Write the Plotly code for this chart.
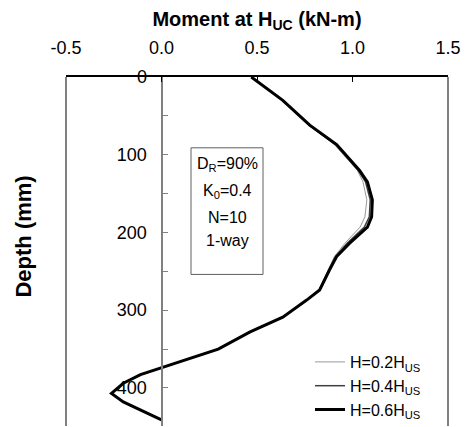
import plotly.graph_objects as go

# Depth below the surface (mm) at which bending moment was recorded
depth_mm = [0, 30, 62, 87, 120, 135, 158, 180, 193, 214, 231, 248, 274, 287,
            309, 328, 350, 374, 383, 394, 407, 418, 428, 441]

# Moment at H_UC (kN-m) for the three loading heights
moment_h02 = [0.47, 0.630, 0.770, 0.905, 1.025, 1.055, 1.075, 1.065, 1.040, 0.960,
              0.905, 0.875, 0.825, 0.760, 0.635, 0.464, 0.297, 0.0, -0.11, -0.20,
              -0.260, -0.20, -0.11, 0.0]
moment_h04 = [0.47, 0.633, 0.773, 0.912, 1.030, 1.068, 1.093, 1.088, 1.062, 0.972,
              0.910, 0.878, 0.826, 0.760, 0.635, 0.464, 0.297, 0.0, -0.11, -0.20,
              -0.262, -0.20, -0.11, 0.0]
moment_h06 = [0.47, 0.635, 0.776, 0.917, 1.036, 1.078, 1.104, 1.100, 1.078, 0.984,
              0.917, 0.880, 0.828, 0.760, 0.635, 0.464, 0.297, 0.0, -0.11, -0.20,
              -0.262, -0.20, -0.11, 0.0]

series_names = ["H=0.2H<sub>US</sub>", "H=0.4H<sub>US</sub>", "H=0.6H<sub>US</sub>"]
x_ticks = [-0.5, 0.0, 0.5, 1.0, 1.5]
box_lines = ["D<sub>R</sub>=90%", "K<sub>0</sub>=0.4", "N=10", "1-way"]

FONT = "Liberation Sans, Arial, sans-serif"

fig = go.Figure()
styles = [dict(color="#9a9a9a", width=1),
          dict(color="#404040", width=1.5),
          dict(color="#000000", width=3)]
for name, vals, st in zip(series_names, [moment_h02, moment_h04, moment_h06], styles):
    fig.add_trace(go.Scatter(x=vals, y=depth_mm, mode="lines", name=name,
                             line=st, showlegend=True))

# Frame lines on the left and right of the plotting area
for xp in (0, 1):
    fig.add_shape(type="line", xref="paper", yref="paper", x0=xp, x1=xp, y0=0, y1=1,
                  line=dict(color="#808080", width=2), layer="above")

# Pixel -> paper helpers for the plotting area (66..448 x 77..427)
def px_to_paper_x(px):
    return (px - 66) / 382

def px_to_paper_y(py):
    return 1 - (py - 77) / 350

# Text box with test conditions
fig.add_shape(type="rect", xref="paper", yref="paper",
              x0=px_to_paper_x(191), x1=px_to_paper_x(263),
              y0=px_to_paper_y(275), y1=px_to_paper_y(148),
              line=dict(color="#606060", width=1), fillcolor="white", layer="below")
for txt, py in zip(box_lines, [165, 192, 218, 241]):
    fig.add_annotation(text=txt, xref="paper", yref="paper", x=px_to_paper_x(227),
                       y=px_to_paper_y(py), showarrow=False, xanchor="center",
                       yanchor="middle", font=dict(family=FONT, size=16, color="black"))

# Depth axis title
fig.add_annotation(text="<b>Depth (mm)</b>", xref="paper", yref="paper",
                   x=px_to_paper_x(24), y=px_to_paper_y(237), textangle=-90,
                   showarrow=False, xanchor="center", yanchor="middle",
                   font=dict(family=FONT, size=22, color="black"))

fig.update_layout(
    width=465, height=427,
    margin=dict(l=66, r=17, t=77, b=0),
    paper_bgcolor="white", plot_bgcolor="white",
    font=dict(family=FONT, size=18, color="black"),
    xaxis=dict(side="top", range=[-0.5, 1.5], tickvals=x_ticks,
               ticktext=[f"{v:.1f}" for v in x_ticks],
               tickfont=dict(size=18), ticklabelstandoff=14,
               showline=True, linecolor="black", linewidth=2,
               ticks="inside", ticklen=5, tickcolor="black", tickwidth=1,
               showgrid=False, zeroline=False,
               title=dict(text="<b>Moment at H<sub>UC</sub> (kN-m)</b>",
                          font=dict(size=20), standoff=6)),
    yaxis=dict(range=[449, 0], anchor="free", position=0.25,
               tickvals=[0, 100, 200, 300, 400],
               tickfont=dict(size=18), ticklabelstandoff=10,
               showline=True, linecolor="#808080", linewidth=2,
               ticks="inside", ticklen=5, tickcolor="#808080", tickwidth=1,
               minor=dict(tickvals=[50, 150, 250, 350, 450], ticks="inside",
                          ticklen=5, tickcolor="#808080"),
               showgrid=False, zeroline=False),
    legend=dict(x=px_to_paper_x(310), y=px_to_paper_y(346), xanchor="left",
                yanchor="top", bgcolor="rgba(0,0,0,0)", font=dict(size=16),
                tracegroupgap=0, itemwidth=30),
)

fig.write_html("out.html")
